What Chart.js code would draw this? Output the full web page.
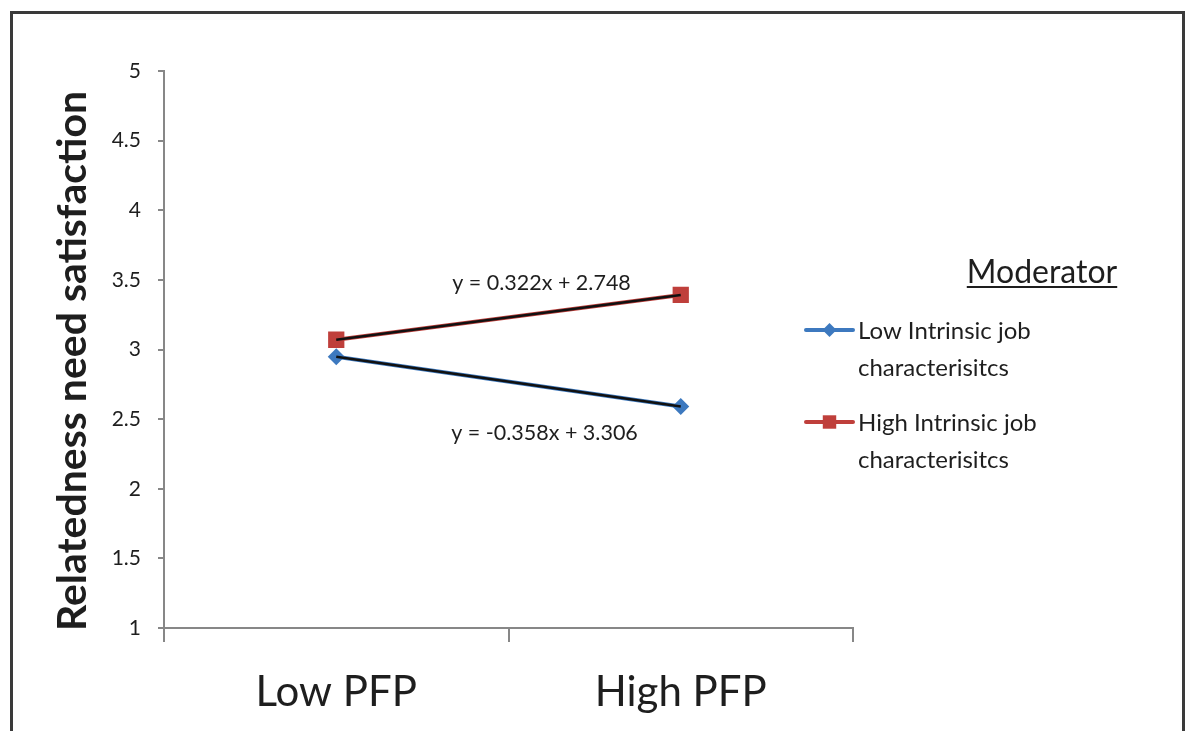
<!DOCTYPE html>
<html>
<head>
<meta charset="utf-8">
<script src="https://cdn.jsdelivr.net/npm/chart.js@4.4.0/dist/chart.umd.min.js"></script>
<style>
  body { margin: 0; background: #fff; }
  #wrap { position: relative; width: 1189px; height: 731px; }
  #frame { position: absolute; left: 10px; top: 11px; width: 1169px; height: 730px;
           border: 3px solid #3a3a3a; border-bottom: none; pointer-events: none; }
</style>
</head>
<body>
<div id="wrap">
  <canvas id="graphCanvas" width="1189" height="731"></canvas>
  <div id="frame"></div>
</div>
<script>
var PFPLevels = ['Low PFP', 'High PFP']
var LowIntrinsic = [2.948, 2.59]
var HighIntrinsic = [3.07, 3.392]
var SeriesNames = ['Low Intrinsic job|characterisitcs', 'High Intrinsic job|characterisitcs']
// linear trend fits: [low, high]
var TrendSlope = [-0.358, 0.322]
var TrendIntercept = [3.306, 2.748]
var YTicks = {min: 1, max: 5, step: 0.5}

var BLUE = '#3d79bf'
var RED = '#bf3f3b'
var AXIS = '#878787'
var TEXT = '#1e1e1e'
var FONT = 'Lato, "Noto Sans", sans-serif'

function trendPoints(i){
    return PFPLevels.map(function(_, k){ return TrendSlope[i] * (k + 1) + TrendIntercept[i] })
}

function eqText(i){
    var s = TrendSlope[i], b = TrendIntercept[i]
    return 'y = ' + s.toFixed(3) + 'x + ' + b.toFixed(3)
}

// y title, trend equations and the legend box on the right
var extras = {
    id: 'extras',
    afterDraw: function(chart){
        var ctx = chart.ctx
        var x = chart.scales.x, y = chart.scales.y
        ctx.save()
        ctx.fillStyle = TEXT

        // axis title
        ctx.save()
        ctx.translate(86, 361)
        ctx.rotate(-Math.PI / 2)
        ctx.font = 'bold 41px ' + FONT
        ctx.textAlign = 'center'
        ctx.textBaseline = 'alphabetic'
        ctx.fillText('Relatedness need satisfaction', 0, 0)
        ctx.restore()

        // equations
        ctx.font = '21.5px ' + FONT
        ctx.textAlign = 'center'
        ctx.textBaseline = 'alphabetic'
        var mid = x.getPixelForValue(0.5)
        ctx.fillText(eqText(1), mid + 33, y.getPixelForValue(3.43))
        ctx.fillText(eqText(0), mid + 36, y.getPixelForValue(2.35))

        // legend
        ctx.font = '32px ' + FONT
        ctx.textAlign = 'center'
        ctx.fillText('Moderator', 1042, 283)
        var w = ctx.measureText('Moderator').width
        ctx.fillRect(1042 - w / 2, 286, w, 2)

        var colors = [BLUE, RED]
        var styles = ['rectRot', 'rect']
        var radius = [7, 9.5]
        var rows = [330, 422]
        ctx.font = '24px ' + FONT
        ctx.textAlign = 'left'
        for (var i = 0; i < 2; i++){
            ctx.strokeStyle = colors[i]
            ctx.lineWidth = 4
            ctx.lineCap = 'round'
            ctx.beginPath()
            ctx.moveTo(806, rows[i])
            ctx.lineTo(853, rows[i])
            ctx.stroke()
            ctx.fillStyle = colors[i]
            Chart.helpers.drawPoint(ctx, {pointStyle: styles[i], radius: radius[i], borderWidth: 0}, 829.5, rows[i])
            ctx.fillStyle = TEXT
            var lines = SeriesNames[i].split('|')
            ctx.fillText(lines[0], 858, rows[i] + 9)
            ctx.fillText(lines[1], 858, rows[i] + 46)
        }
        ctx.restore()
    }
}

var mychart = new Chart(document.getElementById('graphCanvas'), {
    type: 'line',
    data: {
        labels: PFPLevels,
        datasets: [
            {
                label: 'Low Intrinsic job characterisitcs',
                data: LowIntrinsic,
                borderColor: BLUE,
                backgroundColor: BLUE,
                borderWidth: 4,
                pointStyle: 'rectRot',
                pointRadius: 8.5,
                pointBorderWidth: 0,
                order: 2
            },
            {
                label: 'High Intrinsic job characterisitcs',
                data: HighIntrinsic,
                borderColor: RED,
                backgroundColor: RED,
                borderWidth: 4,
                pointStyle: 'rect',
                pointRadius: 11.5,
                pointBorderWidth: 0,
                order: 2
            },
            {
                label: 'trend low',
                data: trendPoints(0),
                borderColor: '#111',
                borderWidth: 2.5,
                pointRadius: 0,
                order: 1
            },
            {
                label: 'trend high',
                data: trendPoints(1),
                borderColor: '#111',
                borderWidth: 2.5,
                pointRadius: 0,
                order: 1
            }
        ]
    },
    options: {
        responsive: false,
        animation: false,
        layout: {padding: {left: 0, top: 71, right: 336, bottom: 0}},
        plugins: {legend: {display: false}, tooltip: {enabled: false}},
        scales: {
            x: {
                offset: true,
                grid: {offset: true, drawOnChartArea: false, tickLength: 14, color: AXIS, lineWidth: 2},
                border: {color: AXIS, width: 2},
                ticks: {font: {family: FONT, size: 42}, color: TEXT, padding: 25},
                afterFit: function(s){ s.height = 103 }
            },
            y: {
                min: YTicks.min,
                max: YTicks.max,
                grid: {drawOnChartArea: false, tickLength: 6, color: AXIS, lineWidth: 2},
                border: {color: AXIS, width: 2},
                ticks: {
                    stepSize: YTicks.step,
                    font: {family: FONT, size: 21},
                    color: TEXT,
                    padding: 17,
                    callback: function(v){ return String(v) }
                },
                afterFit: function(s){ s.width = 164 }
            }
        }
    },
    plugins: [extras]
});
</script>
</body>
</html>
